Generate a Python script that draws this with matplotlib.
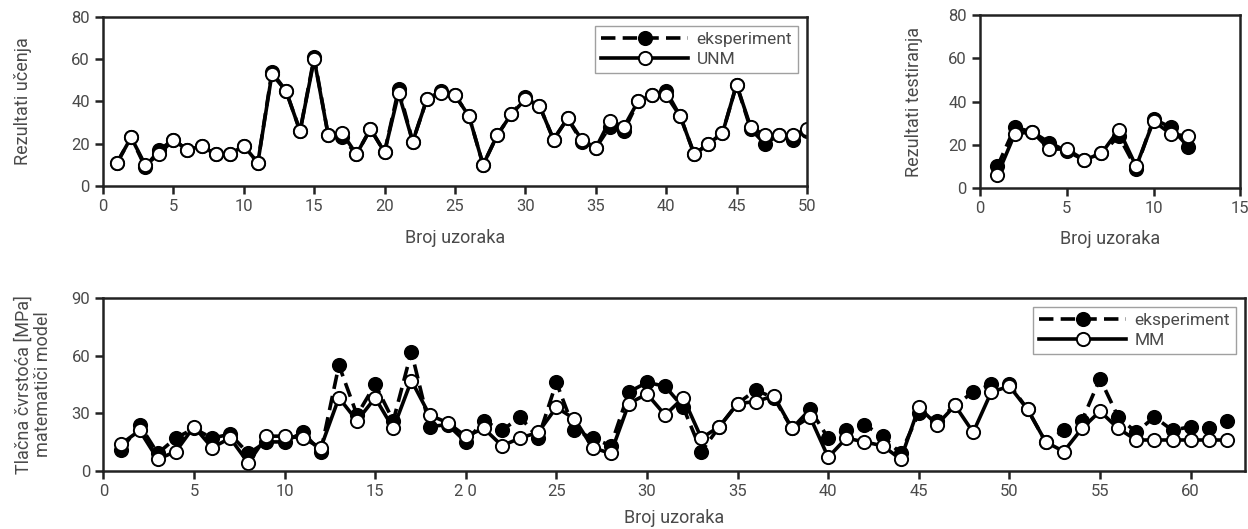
import numpy as np
import matplotlib
matplotlib.use('Agg')
import matplotlib.pyplot as plt

#
# data
#
# training results (top left)
train_exp = [11, 23, 9, 17, 22, 17, 19, 15, 15, 19,
             11, 54, 45, 26, 61, 24, 23, 15, 27, 16,
             46, 21, 41, 45, 43, 33, 10, 24, 34, 42,
             38, 22, 32, 21, 18, 28, 26, 40, 43, 45,
             33, 15, 20, 25, 48, 27, 20, 24, 22, 26]
train_unm = [11, 23, 10, 15, 22, 17, 19, 15, 15, 19,
             11, 53, 45, 26, 60, 24, 25, 15, 27, 16,
             44, 21, 41, 44, 43, 33, 10, 24, 34, 41,
             38, 22, 32, 22, 18, 31, 28, 40, 43, 43,
             33, 15, 20, 25, 48, 28, 24, 24, 24, 27]

# testing results (top right)
test_exp = [10, 28, 26, 21, 17, 13, 16, 24, 9, 32, 28, 19]
test_unm = [6, 25, 26, 18, 18, 13, 16, 27, 10, 31, 25, 24]

# compressive strength, experiment vs math model (bottom)
mm_exp = [11, 24, 9, 17, 22, 17, 19, 9, 15, 15,
          20, 10, 55, 29, 45, 26, 62, 23, 24, 15,
          26, 21, 28, 17, 46, 21, 17, 13, 41, 46,
          44, 33, 10, 23, 35, 42, 38, 22, 32, 17,
          21, 24, 18, 9, 30, 26, 34, 41, 45, 45,
          32, 15, 21, 26, 48, 28, 20, 28, 21, 23,
          22, 26]
mm_mod = [14, 21, 6, 10, 23, 12, 17, 4, 18, 18,
          17, 12, 38, 26, 38, 22, 47, 29, 25, 18,
          22, 13, 17, 20, 33, 27, 12, 9, 35, 40,
          29, 38, 17, 23, 35, 36, 39, 22, 28, 7,
          17, 15, 13, 6, 33, 24, 34, 20, 41, 44,
          32, 15, 10, 22, 31, 22, 16, 16, 16, 16,
          16, 16]

bottom_ticks = [0, 5, 10, 15, 20, 25, 30, 35, 40, 45, 50, 55, 60]
bottom_ticklabels = ['0', '5', '10', '15', '2 0', '25', '30', '35', '40',
                     '45', '50', '55', '60']

txt_col = '#4a4a4a'
plt.rcParams['font.family'] = ['Roboto', 'DejaVu Sans']
plt.rcParams['font.size'] = 12

fig = plt.figure(figsize=(12.48, 5.29), dpi=100)
ax1 = fig.add_axes([0.0825, 0.6484, 0.5641, 0.3195])
ax2 = fig.add_axes([0.7853, 0.6446, 0.2085, 0.3270])
ax3 = fig.add_axes([0.0828, 0.1102, 0.9148, 0.3265])

exp_style = dict(color='black', linestyle=(0, (4, 2)), linewidth=2.6,
                 marker='o', markersize=9.5, markerfacecolor='black',
                 markeredgecolor='black', markeredgewidth=1.4)
mod_style = dict(color='black', linestyle='-', linewidth=2.6,
                 marker='o', markersize=9.5, markerfacecolor='white',
                 markeredgecolor='black', markeredgewidth=1.4)


def draw(ax, y_exp, y_mod, lab_mod):
    x_e = np.arange(1, len(y_exp) + 1)
    x_m = np.arange(1, len(y_mod) + 1)
    ax.plot(x_e, y_exp, label='eksperiment', **exp_style)
    ax.plot(x_m, y_mod, label=lab_mod, **mod_style)


def style(ax):
    for sp in ax.spines.values():
        sp.set_linewidth(1.8)
        sp.set_color('#222222')
    ax.tick_params(direction='out', length=6, width=1.8, color='#222222',
                   labelcolor=txt_col, labelsize=12)


def add_legend(ax):
    leg = ax.legend(loc='upper right', fancybox=False, edgecolor='#888888',
                    fontsize=12.5, handlelength=5, borderaxespad=0.5,
                    labelspacing=0.3, borderpad=0.35, handletextpad=0.5)
    leg.get_frame().set_linewidth(1.0)
    for t in leg.get_texts():
        t.set_color(txt_col)


draw(ax1, train_exp, train_unm, 'UNM')
ax1.set_xlim(0, 50)
ax1.set_ylim(0, 80)
ax1.set_xticks(range(0, 51, 5))
ax1.set_yticks(range(0, 81, 20))
ax1.set_xlabel('Broj uzoraka', color=txt_col, fontsize=13, labelpad=11)
ax1.set_ylabel('Rezultati učenja', color=txt_col, fontsize=13, labelpad=28)
style(ax1)
add_legend(ax1)

draw(ax2, test_exp, test_unm, 'UNM')
ax2.set_xlim(0, 15)
ax2.set_ylim(0, 80)
ax2.set_xticks([0, 5, 10, 15])
ax2.set_yticks(range(0, 81, 20))
ax2.set_xlabel('Broj uzoraka', color=txt_col, fontsize=13, labelpad=10)
ax2.set_ylabel('Rezultati testiranja', color=txt_col, fontsize=13,
               labelpad=18)
style(ax2)

draw(ax3, mm_exp, mm_mod, 'MM')
ax3.set_xlim(0, 63)
ax3.set_ylim(0, 90)
ax3.set_xticks(bottom_ticks)
ax3.set_xticklabels(bottom_ticklabels)
ax3.set_yticks([0, 30, 60, 90])
ax3.set_xlabel('Broj uzoraka', color=txt_col, fontsize=13, labelpad=7)
ax3.set_ylabel('Tlačna čvrstoća [MPa]\nmatematiči model', color=txt_col,
               fontsize=13, labelpad=14, linespacing=1.1)
style(ax3)
add_legend(ax3)

fig.savefig('out.png', dpi=100)
